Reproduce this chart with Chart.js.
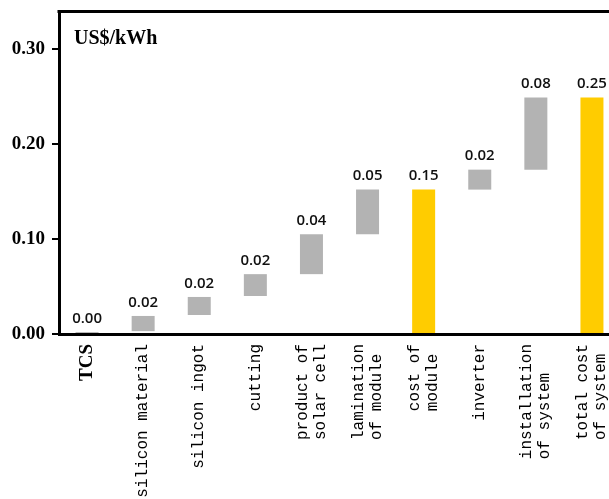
<!DOCTYPE html>
<html>
<head>
<meta charset="utf-8">
<script src="https://cdn.jsdelivr.net/npm/chart.js@4.4.1/dist/chart.umd.min.js"></script>
<style>
  html, body { margin: 0; padding: 0; background: #fff; overflow: hidden; }
  #wrap { position: relative; width: 609px; height: 499px; overflow: hidden; }
  #inner { position: absolute; left: 0; top: 0; width: 620px; height: 499px; }
</style>
</head>
<body>
<div id="wrap"><div id="inner"><canvas id="c"></canvas></div></div>
<script>
// Cost build-up of a PV system, US$/kWh
const categories = [
  ["TCS"],
  ["silicon material"],
  ["silicon ingot"],
  ["cutting"],
  ["product of", "solar cell"],
  ["lamination", "of module"],
  ["cost of", "module"],
  ["inverter"],
  ["installation", "of system"],
  ["total cost", "of system"]
];
// each step floats from its start to its end value
const stepStart = [0, 0.003, 0.020, 0.040, 0.063, 0.105, 0, 0.152, 0.173, 0];
const stepEnd   = [0.002, 0.019, 0.039, 0.063, 0.105, 0.152, 0.152, 0.173, 0.249, 0.249];
// subtotal columns start from zero
const isTotal   = [false, false, false, false, false, false, true, false, false, true];

const GREY = '#b3b3b3';
const YELLOW = '#ffcc00';
const MONO = "16px 'Liberation Mono', monospace";
const SERIF_BOLD = "bold 19px 'Liberation Serif', serif";
const serifBold = { family: "'Liberation Serif', serif", size: 19, weight: 'bold' };

// keep the plot area flush with the layout padding
function noEdgePadding(s) {
  s.paddingTop = 0; s.paddingBottom = 0; s.paddingLeft = 0; s.paddingRight = 0;
}

const framePlugin = {
  id: 'frame',
  afterDraw(chart) {
    const { ctx, chartArea } = chart;
    ctx.save();
    ctx.strokeStyle = '#000';
    ctx.lineWidth = 3;
    ctx.beginPath();
    ctx.moveTo(chartArea.left - 1.5, chartArea.top + 0.5);
    ctx.lineTo(chartArea.right, chartArea.top + 0.5);
    ctx.lineTo(chartArea.right, chartArea.bottom);
    ctx.stroke();
    // unit caption inside the plot
    ctx.fillStyle = '#000';
    ctx.font = "bold 20px 'Liberation Serif', serif";
    ctx.textAlign = 'left';
    ctx.textBaseline = 'alphabetic';
    ctx.fillText('US$/kWh', chartArea.left + 15, 44);
    ctx.restore();
  }
};

// vertical category names, stacked lines centred on each column and sharing a start
const categoryLabels = {
  id: 'categoryLabels',
  afterDraw(chart) {
    const { ctx } = chart;
    const xs = chart.scales.x;
    const y0 = xs.top + 10;
    const lineGap = 18;
    ctx.save();
    ctx.fillStyle = '#000';
    ctx.textBaseline = 'middle';
    categories.forEach((lines, i) => {
      const cx = xs.getPixelForValue(i);
      ctx.font = i === 0 ? SERIF_BOLD : MONO;
      const w = Math.max(...lines.map(l => ctx.measureText(l).width));
      lines.forEach((line, j) => {
        const lx = cx + (j - (lines.length - 1) / 2) * lineGap;
        ctx.save();
        ctx.translate(lx, y0 + w);
        ctx.rotate(-Math.PI / 2);
        ctx.textAlign = 'left';
        ctx.fillText(line, 0, 0);
        ctx.restore();
      });
    });
    ctx.restore();
  }
};

const valueLabels = {
  id: 'valueLabels',
  afterDatasetsDraw(chart) {
    const { ctx } = chart;
    const meta = chart.getDatasetMeta(0);
    ctx.save();
    ctx.fillStyle = '#101010';
    ctx.font = "600 15px 'Open Sans', sans-serif";
    ctx.textAlign = 'center';
    ctx.textBaseline = 'bottom';
    meta.data.forEach((bar, i) => {
      const top = Math.min(bar.y, bar.base);
      ctx.fillText((stepEnd[i] - stepStart[i]).toFixed(2), bar.x, top - 6);
    });
    ctx.restore();
  }
};

new Chart(document.getElementById('c'), {
  type: 'bar',
  data: {
    labels: categories.map(l => l.join(' ')),
    datasets: [{
      data: stepStart.map((s, i) => [s, stepEnd[i]]),
      backgroundColor: isTotal.map(t => t ? YELLOW : GREY),
      borderWidth: 0,
      barPercentage: 0.41,
      categoryPercentage: 1
    }]
  },
  options: {
    responsive: true,
    maintainAspectRatio: false,
    animation: false,
    layout: { padding: { top: 11, right: 0, left: 0, bottom: 0 } },
    plugins: { legend: { display: false }, tooltip: { enabled: false } },
    scales: {
      x: {
        grid: { display: false, drawTicks: false },
        border: { display: true, color: '#000', width: 3 },
        ticks: { display: false },
        afterFit: s => { s.height = 165; noEdgePadding(s); }
      },
      y: {
        min: 0,
        max: 0.34,
        grid: { display: true, drawOnChartArea: false, drawTicks: true, tickLength: 7, color: '#000', lineWidth: 2 },
        border: { display: true, color: '#000', width: 3 },
        ticks: {
          stepSize: 0.1,
          includeBounds: false,
          padding: 7,
          color: '#000',
          font: serifBold,
          callback: v => v.toFixed(2)
        },
        afterFit: s => { s.width = 59; noEdgePadding(s); }
      }
    }
  },
  plugins: [framePlugin, categoryLabels, valueLabels]
});
</script>
</body>
</html>
